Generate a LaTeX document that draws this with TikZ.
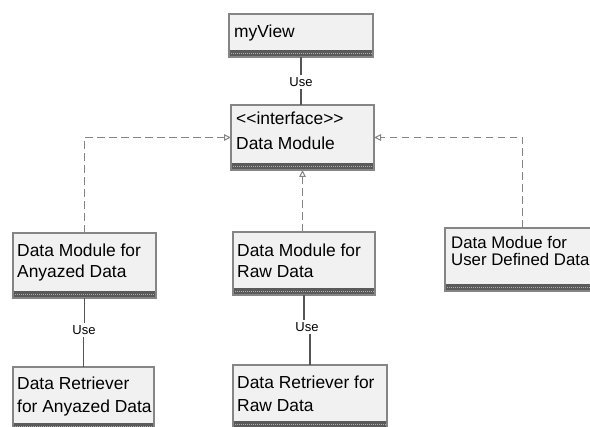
\documentclass[tikz,border=0pt]{standalone}
\usepackage{fontspec}
\setmainfont{Liberation Sans}
\usetikzlibrary{arrows.meta}
\definecolor{boxfill}{HTML}{F1F1F1}
\definecolor{boxline}{HTML}{858585}
\definecolor{bandc}{HTML}{5A5A5A}
\definecolor{bandd}{HTML}{AEAEAE}
\definecolor{useC}{HTML}{555555}
\definecolor{dashC}{HTML}{848484}
\begin{document}
\begin{tikzpicture}[x=1pt,y=-1pt,
  umlbox/.style={draw=boxline, line width=1.6pt, fill=boxfill, anchor=north west,
    inner sep=0pt, outer sep=0pt,
    path picture={
      \fill[bandc] ([yshift=7pt]path picture bounding box.south west)
        rectangle (path picture bounding box.south east);
      \draw[bandd, line width=1pt, dash pattern=on 1pt off 1pt]
        ([yshift=3.5pt]path picture bounding box.south west)
        -- ([yshift=3.5pt]path picture bounding box.south east);}},
  txt/.style={anchor=base west, inner sep=0pt, font=\fontsize{17.4}{20}\selectfont},
  txtsm/.style={anchor=base west, inner sep=0pt, font=\fontsize{16.8}{19}\selectfont},
  uselbl/.style={font=\fontsize{13}{15}\selectfont, inner sep=2.5pt},
  useline/.style={draw=useC, line width=1.2pt},
  realize/.style={draw=dashC, line width=1.3pt, dash pattern=on 7.5pt off 4.5pt,
    -{Triangle[open, length=7pt, width=6.5pt, line width=1pt]}}]
\clip (0,0) rectangle (590,427);
\useasboundingbox (0,0) rectangle (590,427);

% class boxes
\node[umlbox, minimum width=144, minimum height=43] (mv) at (229,14) {};
\node[umlbox, minimum width=143, minimum height=65] (ifc) at (231,105) {};
\node[umlbox, minimum width=143, minimum height=65] (lm) at (13,233) {};
\node[umlbox, minimum width=142, minimum height=63] (mm) at (233,232) {};
\node[umlbox, minimum width=155, minimum height=63] (rm) at (445,228) {};
\node[umlbox, minimum width=141, minimum height=63] (lr) at (13,367) {};
\node[umlbox, minimum width=154, minimum height=63] (mr) at (233,365) {};

% class names
\node[txt] (mv-t) at (234,38) {myView};
\node[txt] (ifc-t1) at (236,125) {\textless\kern0pt\textless interface\textgreater\kern0pt\textgreater};
\node[txt] (ifc-t2) at (236,150) {Data Module};
\node[txt] (lm-t1) at (17,257) {Data Module for};
\node[txt] (lm-t2) at (17,278) {Anyazed Data};
\node[txt] (mm-t1) at (237,257) {Data Module for};
\node[txt] (mm-t2) at (237,278) {Raw Data};
\node[txtsm] (rm-t1) at (451,249) {Data Modue for};
\node[txtsm] (rm-t2) at (451,266) {User Defined Data};
\node[txt] (lr-t1) at (17,390) {Data Retriever};
\node[txt] (lr-t2) at (17,413) {for Anyazed Data};
\node[txt] (mr-t1) at (237,389) {Data Retriever for};
\node[txt] (mr-t2) at (237,412) {Raw Data};

% usage links
\node[uselbl] (u1) at (301,82) {Use};
\draw[useline] (mv.south) -- (mv.south |- u1.north);
\draw[useline] (u1.south) -- (u1.south |- ifc.north);

\node[uselbl] (u2) at (84,330) {Use};
\draw[useline] (lm.south) -- (lm.south |- u2.north);
\draw[useline] (lr.north |- u2.south) -- (lr.north);

\node[uselbl] (u3) at (307,327) {Use};
\draw[useline] (mm.south) -- (mm.south |- u3.north);
\draw[useline] (mr.north |- u3.south) -- (mr.north);

% realizations of the interface
\draw[realize] (lm.north) |- (ifc.west);
\draw[realize] (rm.north) |- (ifc.east);
\draw[realize] (ifc.south |- mm.north) -- (ifc.south);
\end{tikzpicture}
\end{document}
